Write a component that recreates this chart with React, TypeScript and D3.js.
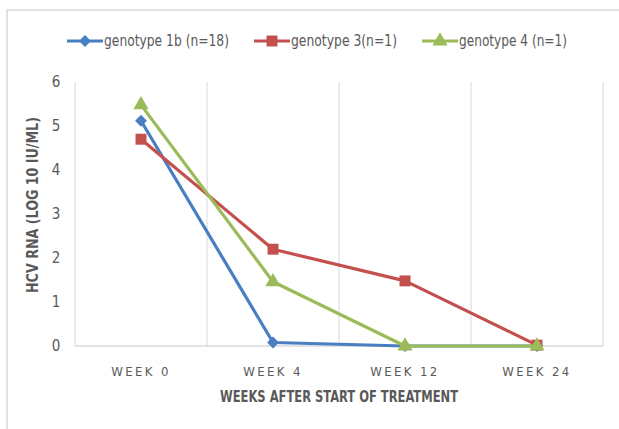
import React from 'react';
import * as d3 from 'd3';

const weeks = ['WEEK 0', 'WEEK 4', 'WEEK 12', 'WEEK 24'];
const genotype1b = [5.12, 0.08, 0, 0];
const genotype3 = [4.7, 2.2, 1.48, 0.02];
const genotype4 = [5.48, 1.46, 0, 0];
const yTicks = [0, 1, 2, 3, 4, 5, 6];

const series = [
  { name: 'genotype 1b (n=18)', values: genotype1b, color: '#4A7EC2', marker: 'diamond' },
  { name: 'genotype 3(n=1)', values: genotype3, color: '#C4504E', marker: 'square' },
  { name: 'genotype 4 (n=1)', values: genotype4, color: '#9BBB59', marker: 'triangle' },
];

const font = "'DejaVu Sans Condensed', 'Liberation Sans Narrow', Roboto, sans-serif";

function markerPath(kind: string) {
  if (kind === 'diamond') return d3.symbol(d3.symbolDiamond2, 90)();
  if (kind === 'square') return d3.symbol(d3.symbolSquare, 120)();
  return d3.symbol(d3.symbolTriangle, 100)();
}

export default function App() {
  const width = 619;
  const height = 429;
  const plot = { left: 75, right: 603, top: 82, bottom: 346 };

  const x = d3.scaleBand().domain(weeks).range([plot.left, plot.right]);
  const y = d3.scaleLinear().domain([0, 6]).range([plot.bottom, plot.top]);
  const cx = (w: string) => (x(w) as number) + x.bandwidth() / 2;

  const line = d3.line<number>()
    .x((d, i) => cx(weeks[i]))
    .y(d => y(d));

  const bounds = weeks.map(w => x(w) as number).concat([plot.right]);
  const legend = [
    { x: 67, w: 125 },
    { x: 254, w: 106 },
    { x: 422, w: 108 },
  ];

  return (
    <svg width={width} height={height} style={{ position: 'absolute', left: 0, top: 0, background: '#fff' }}>
      <rect x={7} y={10} width={640} height={440} fill="#fff" stroke="#d9d9d9" strokeWidth={1.5} />

      {bounds.map((b, i) => (
        <line key={i} x1={b} x2={b} y1={plot.top} y2={plot.bottom} stroke="#d9d9d9" strokeWidth={1} />
      ))}
      <line x1={plot.left} x2={plot.right} y1={plot.bottom} y2={plot.bottom} stroke="#d9d9d9" strokeWidth={1.5} />

      {yTicks.map(t => (
        <text key={t} x={56} y={y(t)} dy="0.35em" textAnchor="middle" fontFamily={font} fontSize={15} fill="#595959">{t}</text>
      ))}
      {weeks.map(w => (
        <text key={w} x={cx(w)} y={376} textAnchor="middle" fontFamily={font} fontSize={13} letterSpacing={2.4} fill="#595959">{w}</text>
      ))}

      <text x={339} y={402} textAnchor="middle" fontFamily={font} fontSize={15} fontWeight="bold" fill="#595959"
        textLength={238} lengthAdjust="spacingAndGlyphs">WEEKS AFTER START OF TREATMENT</text>
      <text transform={`translate(38, ${(plot.top + plot.bottom) / 2 - 9}) rotate(-90)`} textAnchor="middle" fontFamily={font} fontSize={15} fontWeight="bold" fill="#595959"
        textLength={176} lengthAdjust="spacingAndGlyphs">HCV RNA (LOG 10 IU/ML)</text>

      {series.map(s => (
        <g key={s.name}>
          <path d={line(s.values) as string} fill="none" stroke={s.color} strokeWidth={3.2} strokeLinejoin="round" />
          {s.values.map((v, i) => (
            <path key={i} d={markerPath(s.marker) as string} transform={`translate(${cx(weeks[i])}, ${y(v)})`} fill={s.color} />
          ))}
        </g>
      ))}

      {series.map((s, i) => (
        <g key={s.name} transform={`translate(${legend[i].x}, 41)`}>
          <line x1={0} x2={36} y1={0} y2={0} stroke={s.color} strokeWidth={3.2} />
          <path d={markerPath(s.marker) as string} transform="translate(18, 0)" fill={s.color} />
          <text x={37} y={0} dy="0.35em" fontFamily={font} fontSize={15} fill="#595959"
            textLength={legend[i].w} lengthAdjust="spacingAndGlyphs">{s.name}</text>
        </g>
      ))}
    </svg>
  );
}
